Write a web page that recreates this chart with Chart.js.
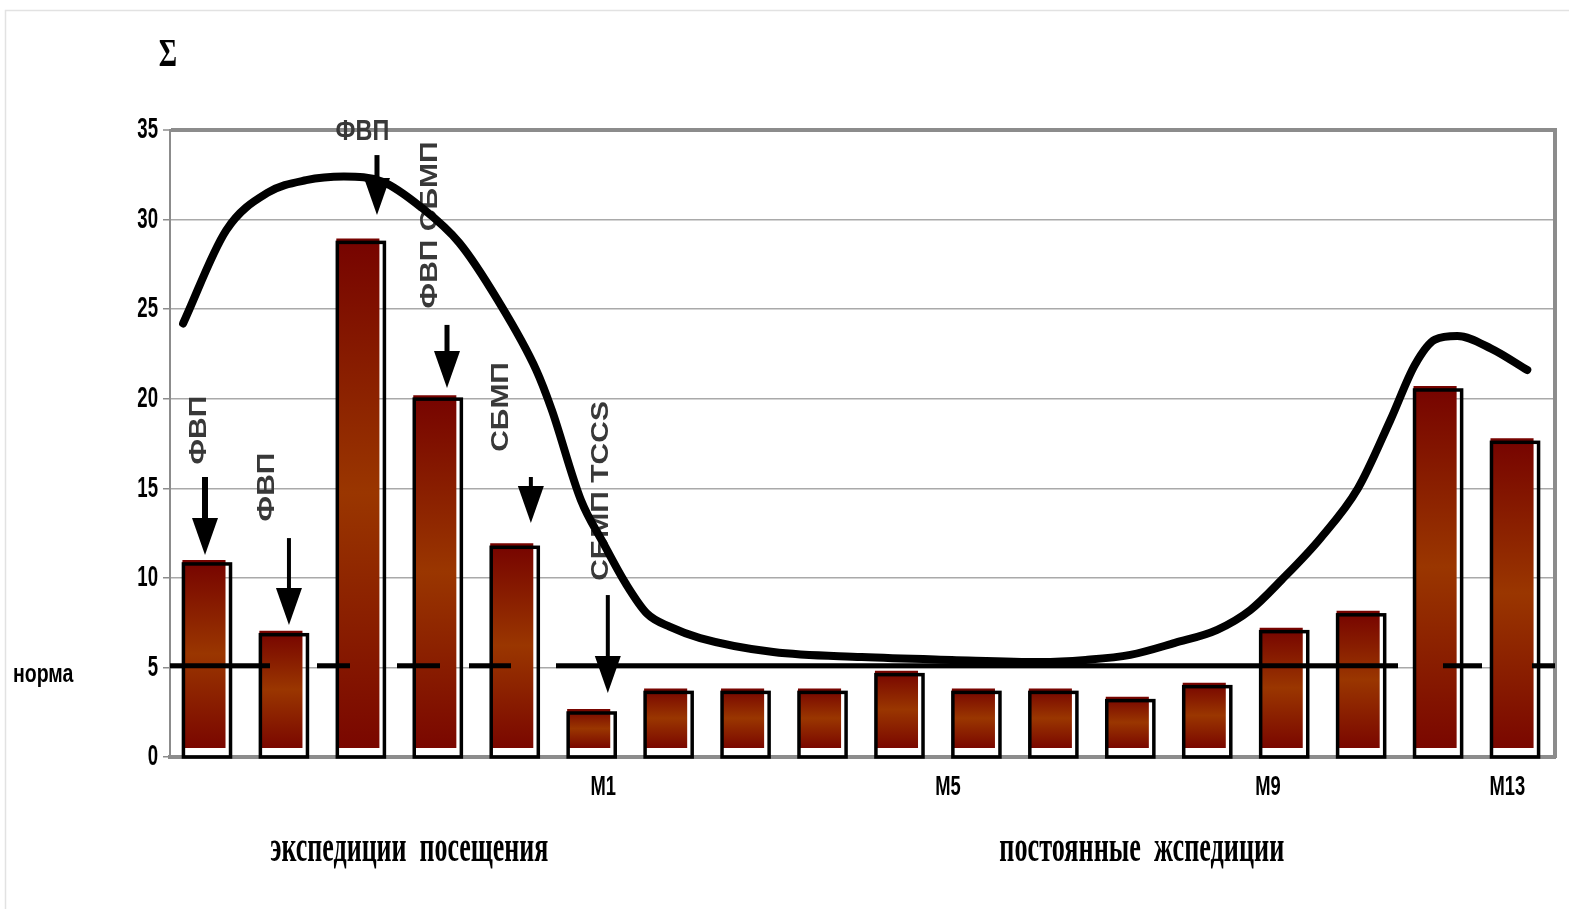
<!DOCTYPE html>
<html>
<head>
<meta charset="utf-8">
<script src="https://cdn.jsdelivr.net/npm/chart.js@4.4.1/dist/chart.umd.min.js"></script>
<style>
  html, body { margin: 0; padding: 0; background: #fff; }
  #wrap { width: 1569px; height: 909px; position: relative; }
</style>
</head>
<body>
<div id="wrap"><canvas id="c" width="1569" height="909"></canvas></div>
<script>
// ---- data ----
const categories = ['П1', 'П2', 'П3', 'П4', 'П5',
  'M1', 'M2', 'M3', 'M4', 'M5', 'M6', 'M7', 'M8', 'M9', 'M10', 'M11', 'M12', 'M13'];
const values = [11.0, 7.05, 28.95, 20.2, 11.93,
  2.68, 3.83, 3.83, 3.83, 4.82, 3.83, 3.83, 3.37, 4.15, 7.22, 8.16, 20.71, 17.79];
const normValue = 5.1;

// smoothed trend curve (x in category units, y in Σ units)
const curveX = [-0.33, 0.23, 0.77, 1.27, 1.76, 2.27, 2.76, 3.26, 3.76, 4.26, 4.46, 4.84, 5.13, 5.42, 5.7,
  6.0, 6.39, 7.34, 8.49, 9.66, 10.82, 11.4, 11.98, 12.56, 13.11, 13.54, 13.95, 14.45, 14.94, 15.36,
  15.68, 15.94, 16.23, 16.67, 17.14];
const curveY = [24.2, 29.4, 31.5, 32.2, 32.4, 32.1, 30.7, 28.7, 25.5, 21.6, 19.4, 14.35, 11.95, 9.7, 8.0,
  7.26, 6.64, 5.86, 5.58, 5.42, 5.3, 5.42, 5.7, 6.37, 7.1, 8.2, 9.9, 12.2, 15.0, 18.8,
  21.9, 23.3, 23.5, 22.8, 21.6];

const axisMarks = ['M1', 'M5', 'M9', 'M13'];
const axisMarkIndex = [5, 9, 13, 17];
const groupTitles = ['экспедиции  посещения', 'постоянные  жспедиции'];
const notes = ['ФВП', 'ФВП', 'ФВП', 'ФВП СБМП', 'СБМП', 'СБМП TCCS'];
const noteBar = [0, 1, 2, 3, 4, 5];
const yAxisTitle = 'Σ';
const normLabel = 'норма';

// ---- layout / style ----
const SQ = 0.78;                 // horizontal squeeze of lettering
const BAR_BASE = 0.5;            // coloured bars sit slightly above the axis
const BAR_SHIFT = -4.5;          // coloured face drawn a little left of its frame
const axisMarkShift = [0.13, 0.61, 0.77, -0.12];
const notePlace = [              // dx in categories, y in Σ units
  { dx: -0.11, y: 18.25, rot: true },
  { dx: -0.23, y: 15.07, rot: true },
  { dx: 0.0,   y: 34.9,  rot: false },
  { dx: -0.12, y: 29.7,  rot: true },
  { dx: -0.19, y: 19.54, rot: true },
  { dx: 0.11,  y: 14.85, rot: true }
];
const arrowPlace = [             // pointer arrows above the first bars
  { bar: 0, dx: -0.045, from: 15.63, to: 11.28, w: 6 },
  { bar: 1, dx: 0.046,  from: 12.22, to: 7.37,  w: 4 },
  { bar: 2, dx: 0.19,   from: 33.6,  to: 30.26, w: 5 },
  { bar: 3, dx: 0.1,    from: 24.12, to: 20.6,  w: 5 },
  { bar: 4, dx: 0.19,   from: 15.63, to: 13.06, w: 4 },
  { bar: 5, dx: 0.19,   from: 9.04,  to: 3.57,  w: 4 }
];
const groupTitleAt = [2.61, 12.13];
const groupTitleWidth = [278, 285];
const NORM_DASH = [100, 47, 33, 47, 43, 29, 42, 45, 842, 45, 39, 50, 40];
const AXIS_GREY = '#8c8c8c';

function squeezedText(ctx, text, x, y, o) {
  ctx.save();
  ctx.translate(x, y);
  ctx.scale(o.sx == null ? SQ : o.sx, 1);
  if (o.rot) ctx.rotate(-Math.PI / 2);
  ctx.font = o.font;
  ctx.fillStyle = o.color || '#000';
  ctx.textAlign = o.align || 'center';
  ctx.textBaseline = o.baseline || 'middle';
  ctx.fillText(text, 0, 0);
  ctx.restore();
}

function barFill(c) {
  const ch = c.chart, ys = ch.scales.y;
  if (!ys || typeof c.raw !== 'number') return '#8a2200';
  const top = ys.getPixelForValue(c.raw), bot = ys.getPixelForValue(BAR_BASE);
  if (!isFinite(top) || !isFinite(bot)) return '#8a2200';
  const g = ch.ctx.createLinearGradient(0, top, 0, bot);
  g.addColorStop(0, '#760300');
  g.addColorStop(0.5, '#9a3600');
  g.addColorStop(1, '#7a0700');
  return g;
}

const decor = {
  id: 'decor',
  beforeDraw(chart) {
    const ctx = chart.ctx;
    ctx.save();
    ctx.fillStyle = '#fff';
    ctx.fillRect(0, 0, chart.width, chart.height);
    ctx.strokeStyle = '#e2e2e2';
    ctx.lineWidth = 1.5;
    ctx.beginPath();
    ctx.moveTo(5.5, chart.height); ctx.lineTo(5.5, 10.5); ctx.lineTo(chart.width, 10.5);
    ctx.stroke();
    ctx.restore();
  },
  beforeDatasetDraw(chart, args) {
    if (args.index !== 0) return;
    chart.ctx.save();
    chart.ctx.translate(BAR_SHIFT, 0);
  },
  afterDatasetDraw(chart, args) {
    if (args.index !== 0) return;
    const ctx = chart.ctx;
    ctx.restore();
    const ys = chart.scales.y, xs = chart.scales.xc, area = chart.chartArea;
    const y0 = ys.getPixelForValue(0);

    // black frames around the bars
    ctx.save();
    ctx.strokeStyle = '#000';
    ctx.lineWidth = 3.5;
    args.meta.data.forEach(el => {
      const l = el.x + BAR_SHIFT - el.width / 2 + 1;
      const r = el.x + BAR_SHIFT + el.width / 2 + 5;
      const t = el.y + 4;
      ctx.strokeRect(l, t, r - l, y0 - t);
    });
    ctx.restore();

    // norm line
    const yn = ys.getPixelForValue(normValue);
    ctx.save();
    ctx.strokeStyle = '#000';
    ctx.lineWidth = 5;
    ctx.setLineDash(NORM_DASH);
    ctx.beginPath();
    ctx.moveTo(area.left, yn);
    ctx.lineTo(area.right, yn);
    ctx.stroke();
    ctx.restore();

    // notes
    notes.forEach((txt, i) => {
      const p = notePlace[i];
      const x = xs.getPixelForValue(noteBar[i] + p.dx);
      const y = ys.getPixelForValue(p.y);
      squeezedText(ctx, txt, x, y, {
        font: 'bold 30px "Liberation Sans", Arial, sans-serif',
        color: '#383838', rot: p.rot
      });
    });

    // arrows
    ctx.save();
    ctx.fillStyle = '#000';
    ctx.strokeStyle = '#000';
    arrowPlace.forEach(a => {
      const x = xs.getPixelForValue(a.bar + a.dx);
      const yf = ys.getPixelForValue(a.from), yt = ys.getPixelForValue(a.to);
      const head = 37, hw = 13;
      ctx.lineWidth = a.w;
      ctx.beginPath();
      ctx.moveTo(x, yf);
      ctx.lineTo(x, yt - head + 2);
      ctx.stroke();
      ctx.beginPath();
      ctx.moveTo(x - hw, yt - head);
      ctx.lineTo(x + hw, yt - head);
      ctx.lineTo(x, yt);
      ctx.closePath();
      ctx.fill();
    });
    ctx.restore();
  },
  afterDraw(chart) {
    const ctx = chart.ctx, ys = chart.scales.y, xs = chart.scales.xc, area = chart.chartArea;
    // value axis labels
    ys.ticks.forEach(t => {
      squeezedText(ctx, String(t.value), area.left - 12, ys.getPixelForValue(t.value), {
        font: 'bold 30px "Liberation Sans", Arial, sans-serif', sx: 0.62, align: 'right'
      });
    });
    // mission marks under the axis
    axisMarks.forEach((m, i) => {
      squeezedText(ctx, m, xs.getPixelForValue(axisMarkIndex[i] + axisMarkShift[i]), area.bottom + 31, {
        font: 'bold 27px "Liberation Sans", Arial, sans-serif', sx: 0.68
      });
    });
    // axis title and norm label
    squeezedText(ctx, yAxisTitle, 168, 56, {
      font: 'bold 40px "Liberation Serif", "Times New Roman", serif', sx: 0.7
    });
    squeezedText(ctx, normLabel, 13, ys.getPixelForValue(normValue) + 16, {
      font: 'bold 25px "Liberation Sans", Arial, sans-serif', align: 'left', baseline: 'alphabetic'
    });
    // group titles
    groupTitles.forEach((g, i) => {
      const font = 'bold 44px "Liberation Serif", "Times New Roman", serif';
      ctx.save();
      ctx.font = font;
      const w = ctx.measureText(g).width;
      ctx.restore();
      squeezedText(ctx, g, xs.getPixelForValue(groupTitleAt[i]), area.bottom + 104, {
        font, sx: groupTitleWidth[i] / w, baseline: 'alphabetic'
      });
    });
  }
};

new Chart(document.getElementById('c'), {
  type: 'bar',
  data: {
    labels: categories,
    datasets: [
      {
        type: 'bar',
        label: 'Σ',
        data: values,
        xAxisID: 'x',
        yAxisID: 'y',
        base: BAR_BASE,
        backgroundColor: barFill,
        borderWidth: 0,
        grouped: false,
        barPercentage: 0.56,
        categoryPercentage: 1.0,
        order: 1
      },
      {
        type: 'line',
        label: 'тренд',
        data: curveX.map((x, i) => ({ x, y: curveY[i] })),
        xAxisID: 'xc',
        yAxisID: 'y',
        borderColor: '#000',
        borderWidth: 8,
        pointRadius: 0,
        fill: false,
        cubicInterpolationMode: 'monotone',
        borderCapStyle: 'round',
        borderJoinStyle: 'round',
        order: 0
      }
    ]
  },
  options: {
    responsive: false,
    animation: false,
    devicePixelRatio: 1,
    layout: { padding: { top: 130, left: 0, right: 0, bottom: 0 } },
    plugins: { legend: { display: false }, tooltip: { enabled: false } },
    scales: {
      x: {
        type: 'category',
        position: 'bottom',
        offset: true,
        grid: { display: false },
        ticks: { display: false },
        border: { display: true, color: AXIS_GREY, width: 4 },
        afterFit: s => { s.height = 152; }
      },
      xc: {
        type: 'linear',
        position: 'bottom',
        display: false,
        offset: false,
        grid: { offset: false },
        min: -0.5,
        max: 17.5
      },
      y: {
        type: 'linear',
        position: 'left',
        min: 0,
        max: 35,
        ticks: { display: false, stepSize: 5 },
        grid: {
          color: c => (c.tick && c.tick.value === 35) ? AXIS_GREY : '#a9a9a9',
          lineWidth: c => (c.tick && c.tick.value === 35) ? 4 : 1.5,
          tickLength: 7,
          tickColor: AXIS_GREY,
          tickWidth: 1.5
        },
        border: { display: true, color: AXIS_GREY, width: 2 },
        afterFit: s => { s.width = 170; }
      },
      yr: {
        type: 'linear',
        position: 'right',
        min: 0,
        max: 35,
        ticks: { display: false },
        grid: { drawOnChartArea: false, drawTicks: false },
        border: { display: true, color: AXIS_GREY, width: 4 },
        afterFit: s => { s.width = 14; }
      }
    }
  },
  plugins: [decor]
});
</script>
</body>
</html>
